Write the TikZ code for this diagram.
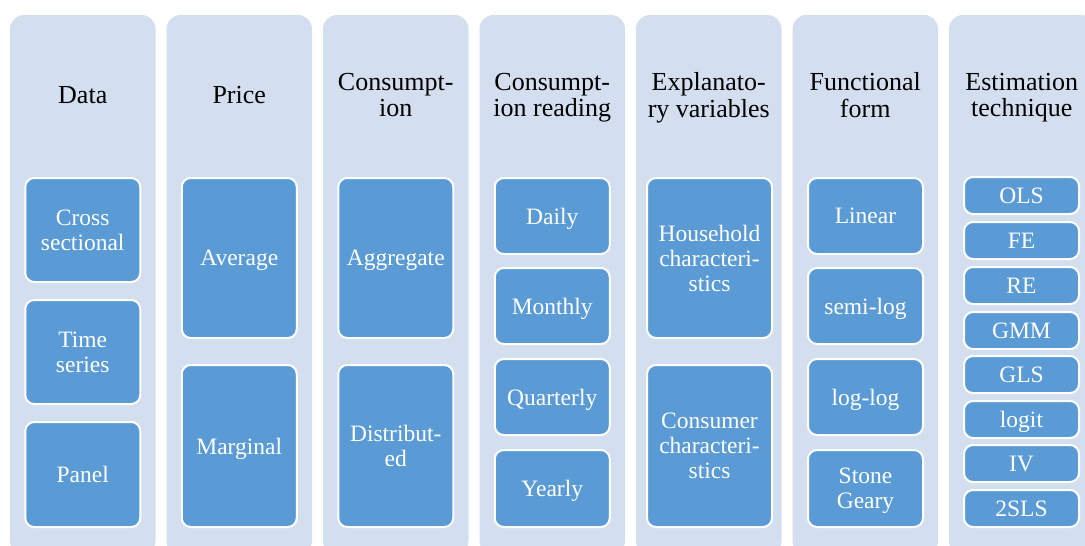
\documentclass[tikz,border=0pt]{standalone}
\usepackage{fontspec}
\setmainfont{Liberation Serif}
\definecolor{colbg}{HTML}{D3DEEF}
\definecolor{itembg}{HTML}{5B9BD5}
\begin{document}
\begin{tikzpicture}[x=1pt,y=-1pt,
  colpanel/.style={fill=colbg, rounded corners=14pt},
  head/.style={font=\fontsize{26}{26.5}\selectfont, align=center, text=black, inner sep=0pt,
    text depth=0pt},
  item/.style={rectangle, rounded corners=9pt, fill=itembg, draw=white, line width=2pt,
    text=white, font=\fontsize{23.5}{25}\selectfont, align=center, inner sep=0pt,
    text depth=0pt, minimum width=115pt},
  wide/.style={item, minimum width=125pt},
]
\useasboundingbox (0,0) rectangle (1085,546);
\clip (0,0) rectangle (1085,546);

% background panels, one per category
\foreach \x in {10,166.5,323,479.5,636,792.5,949}
  \fill[colpanel] (\x,15) rectangle ++(145.5,540);

% category headings
\node[head] (hdata)  at (82.75,95)  {Data};
\node[head] (hprice) at (239.25,95) {Price};
\node[head] (hcons)  at (395.75,95) {Consumpt-\\ion};
\node[head] (hread)  at (552.25,95) {Consumpt-\\ion reading};
\node[head] (hexpl)  at (708.75,95) {Explanato-\\ry variables};
\node[head] (hfunc)  at (865.25,95) {Functional\\form};
\node[head] (hest)   at (1021.75,95) {Estimation\\technique};

% Data
\node[item, minimum height=104pt] (cross) at (82.75,230)  {Cross\\sectional};
\node[item, minimum height=104pt] (time)  at (82.75,352)  {Time\\series};
\node[item, minimum height=105pt] (panel) at (82.75,474.5) {Panel};

% Price
\node[item, minimum height=160pt] (avg)  at (239.25,258) {Average};
\node[item, minimum height=162pt] (marg) at (239.25,446) {Marginal};

% Consumption
\node[item, minimum height=160pt] (aggr) at (395.75,258) {Aggregate};
\node[item, minimum height=162pt] (dist) at (395.75,446) {Distribut-\\ed};

% Consumption reading
\node[item, minimum height=76pt] (daily)   at (552.25,216)   {Daily};
\node[item, minimum height=76pt] (monthly) at (552.25,306)   {Monthly};
\node[item, minimum height=76pt] (quart)   at (552.25,397)   {Quarterly};
\node[item, minimum height=77pt] (yearly)  at (552.25,488.5) {Yearly};

% Explanatory variables
\node[wide, minimum height=160pt] (house) at (709.5,258) {Household\\characteri-\\stics};
\node[wide, minimum height=162pt] (consu) at (709.5,446) {Consumer\\characteri-\\stics};

% Functional form
\node[item, minimum height=76pt] (linear)  at (865.5,216)   {Linear};
\node[item, minimum height=76pt] (semilog) at (865.5,306)   {semi-log};
\node[item, minimum height=76pt] (loglog)  at (865.5,397)   {log-log};
\node[item, minimum height=77pt] (stone)   at (865.5,488.5) {Stone\\Geary};

% Estimation technique
\foreach \nm/\lbl/\y in {ols/OLS/195.5, fe/FE/240.5, re/RE/285.5, gmm/GMM/330.5,
    gls/GLS/374.5, logit/logit/419.5, iv/IV/463.5, tsls/2SLS/508.5}
  \node[item, minimum height=37pt] (\nm) at (1021.5,\y) {\lbl};
\end{tikzpicture}
\end{document}
